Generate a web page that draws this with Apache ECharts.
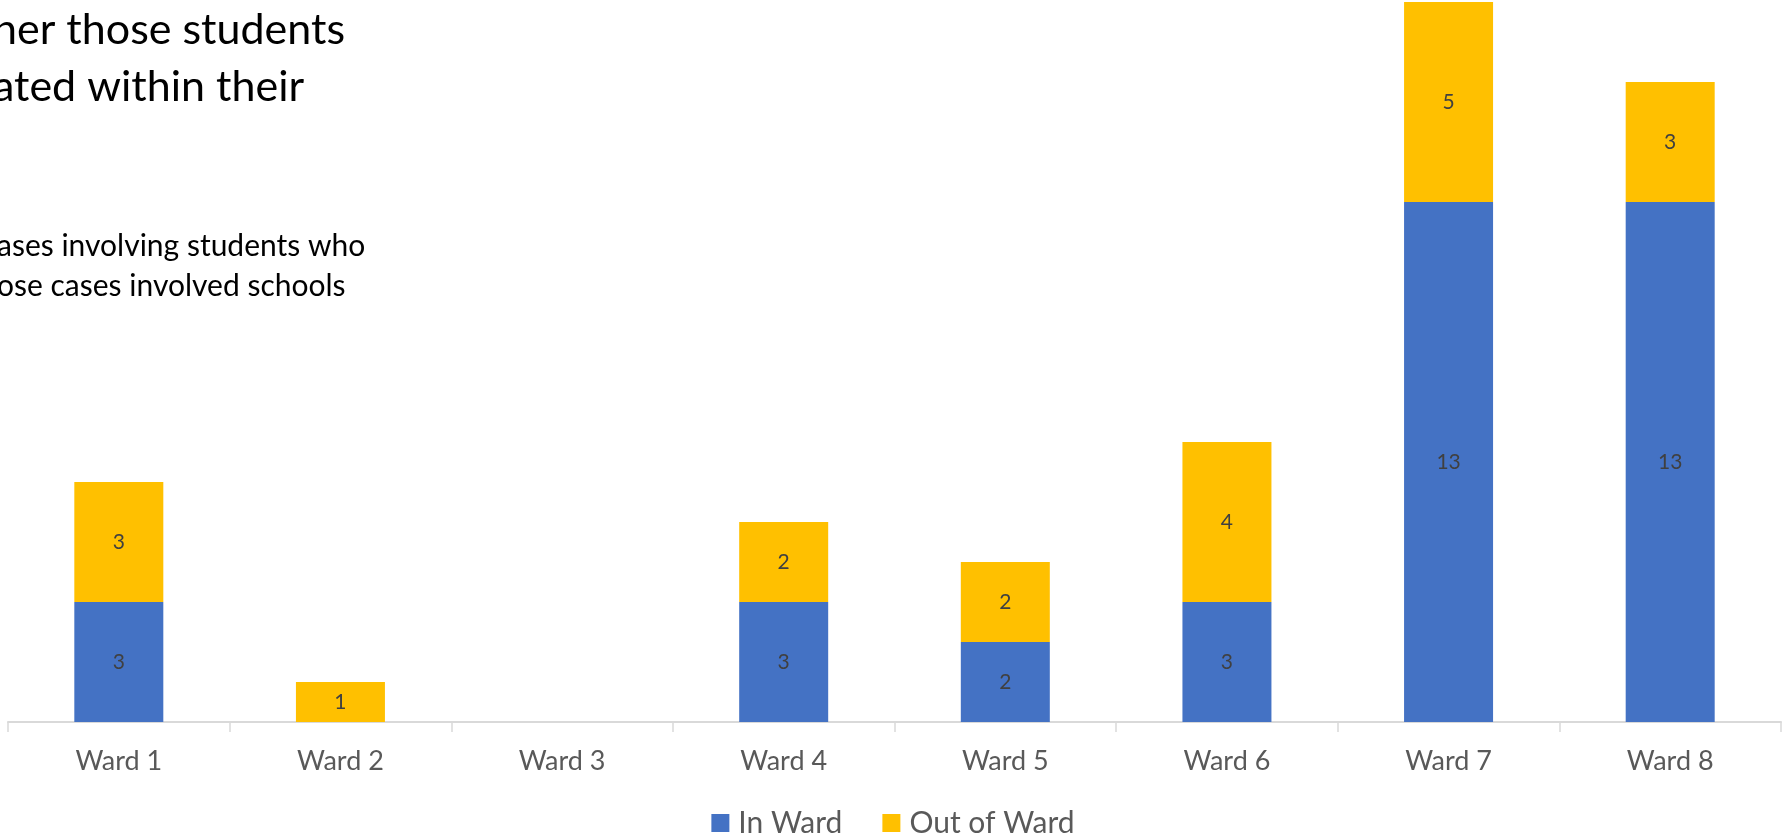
<!DOCTYPE html>
<html><head><meta charset="utf-8">
<script src="https://cdn.jsdelivr.net/npm/echarts@6/dist/echarts.min.js"></script>
<style>html,body{margin:0;padding:0;background:#fff}#c{width:1786px;height:836px}</style>
</head><body><div id="c"></div>
<script>
const categories = ['Ward 1','Ward 2','Ward 3','Ward 4','Ward 5','Ward 6','Ward 7','Ward 8'];
const inWard = [3, 0, 0, 3, 2, 3, 13, 13];
const outOfWard = [3, 1, 0, 2, 2, 4, 5, 3];
const seriesNames = ['In Ward', 'Out of Ward'];
const titleLines = ['her those students', 'ated within their'];
const noteLines = ['ases involving students who', 'ose cases involved schools'];

const FONT = 'Lato';
const chart = echarts.init(document.getElementById('c'));
const lbl = {show: true, position: 'inside', color: '#404040', fontFamily: FONT, fontSize: 21,
  formatter: p => (p.value ? String(p.value) : '')};
chart.setOption({
  animation: false,
  textStyle: {fontFamily: FONT},
  graphic: [
    {type: 'text', left: -7, top: 2, style: {text: titleLines.join('\n'), font: '43px ' + FONT, fill: '#000', lineHeight: 57}},
    {type: 'text', left: -3, top: 226, style: {text: noteLines.join('\n'), font: '30px ' + FONT, fill: '#000', lineHeight: 40}}
  ],
  legend: {top: 803, left: 'center', itemWidth: 18, itemHeight: 18, itemGap: 40, icon: 'rect',
    textStyle: {fontFamily: FONT, fontSize: 30, color: '#595959', padding: [0, 0, 0, 4]}},
  grid: {left: 8, right: 5, top: 2, bottom: 114, containLabel: false},
  xAxis: {type: 'category', data: categories,
    axisLine: {lineStyle: {color: '#D9D9D9', width: 2}},
    axisTick: {show: true, length: 10, lineStyle: {color: '#D9D9D9', width: 1.5}},
    axisLabel: {color: '#595959', fontFamily: FONT, fontSize: 27, margin: 26}},
  yAxis: {type: 'value', min: 0, max: 18, show: false, splitLine: {show: false}},
  series: [
    {name: seriesNames[0], type: 'bar', stack: 's', data: inWard, barWidth: 89, color: '#4472C4', label: lbl},
    {name: seriesNames[1], type: 'bar', stack: 's', data: outOfWard, barWidth: 89, color: '#FFC000', label: lbl}
  ]
});
</script></body></html>
